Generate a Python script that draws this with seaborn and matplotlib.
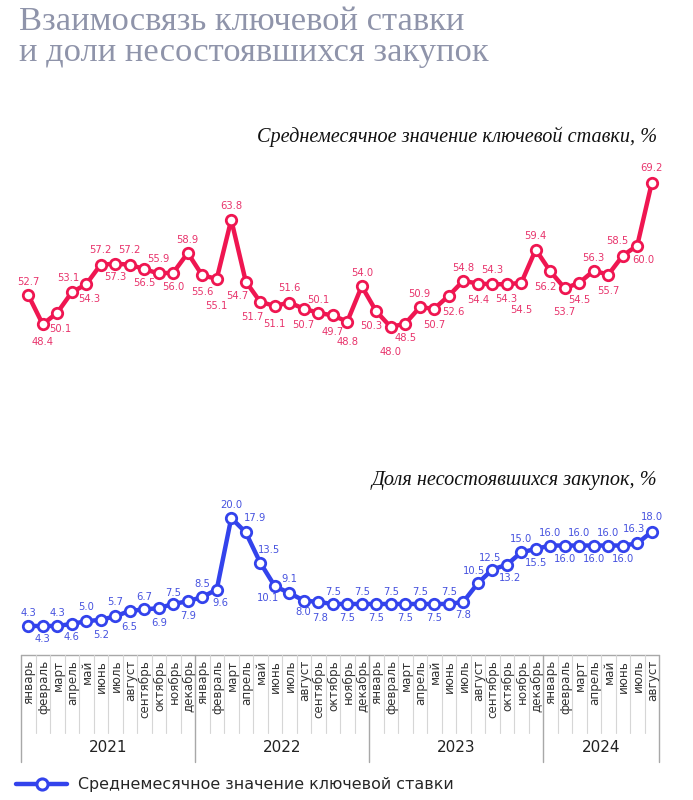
import matplotlib
matplotlib.use("Agg")
import matplotlib.pyplot as plt
import seaborn as sns
import pandas as pd
import numpy as np
from matplotlib.lines import Line2D

# ---------------- data ----------------
months = ["январь", "февраль", "март", "апрель", "май", "июнь", "июль",
          "август", "сентябрь", "октябрь", "ноябрь", "декабрь"]
years = ["2021", "2022", "2023", "2024"]
months_per_year = [12, 12, 12, 8]

key_rate = [52.7, 48.4, 50.1, 53.1, 54.3, 57.2, 57.3, 57.2, 56.5, 55.9, 56.0, 58.9,
            55.6, 55.1, 63.8, 54.7, 51.7, 51.1, 51.6, 50.7, 50.1, 49.7, 48.8, 54.0,
            50.3, 48.0, 48.5, 50.9, 50.7, 52.6, 54.8, 54.4, 54.3, 54.3, 54.5, 59.4,
            56.2, 53.7, 54.5, 56.3, 55.7, 58.5, 60.0, 69.2]

failed_share = [4.3, 4.3, 4.3, 4.6, 5.0, 5.2, 5.7, 6.5, 6.7, 6.9, 7.5, 7.9,
                8.5, 9.6, 20.0, 17.9, 13.5, 10.1, 9.1, 8.0, 7.8, 7.5, 7.5, 7.5,
                7.5, 7.5, 7.5, 7.5, 7.5, 7.5, 7.8, 10.5, 12.5, 13.2, 15.0, 15.5,
                16.0, 16.0, 16.0, 16.0, 16.0, 16.0, 16.3, 18.0]

title = "Взаимосвязь ключевой ставки\nи доли несостоявшихся закупок"
sub_rate = "Среднемесячное значение ключевой ставки, %"
sub_share = "Доля несостоявшихся закупок, %"
legend_label = "Среднемесячное значение ключевой ставки"

# label offsets in pixels (dx, dy) -- styling only
rate_off = [(0, 13), (0, -18), (3, -16), (-3, 14), (3, -15), (0, 15), (0, -13), (0, 15),
            (0, -14), (0, 14), (0, -14), (0, 13), (0, -17), (0, -27), (0, 14), (-8, -14),
            (-8, -15), (0, -18), (0, 15), (0, -16), (0, 13), (0, -17), (0, -20), (0, 13),
            (-5, -15), (0, -25), (0, -14), (0, 13), (0, -16), (5, -16), (0, 13), (0, -16),
            (0, 14), (0, -15), (0, -27), (0, 14), (-5, -16), (0, -24), (0, -17), (0, 13),
            (0, -16), (-5, 15), (6, -14), (0, 15)]
share_off = [(0, 13), (0, -13), (0, 13), (0, -13), (0, 14), (0, -15), (0, 14), (0, -16),
             (0, 12), (0, -15), (0, 11), (0, -15), (0, 13), (4, -13), (0, 13), (9, 14),
             (9, 13), (-7, -12), (0, 14), (0, -11), (2, -16), (0, 12),
             (0, -14), (0, 12), (0, -14), (0, 12), (0, -14), (0, 12), (0, -14), (0, 12),
             (0, -13), (-4, 12), (-2, 12), (3, -13), (0, 13), (0, -14), (0, 13), (0, -13),
             (0, 13), (0, -13), (0, 13), (0, -13), (-3, 14), (0, 15)]

RED = "#EF1651"
RED_TXT = "#E8346C"
BLUE = "#3343EC"
BLUE_TXT = "#4652DF"
TITLE_C = "#8F94AA"

sns.set_style("white")
plt.rcParams["font.family"] = ["DejaVu Sans"]

W, H = 693, 800
fig = plt.figure(figsize=(W / 100, H / 100), dpi=100)


def px_axes(x0, y0, x1, y1):
    return fig.add_axes([x0 / W, 1 - y1 / H, (x1 - x0) / W, (y1 - y0) / H])


n = len(key_rate)
idx = np.arange(n)
df = pd.DataFrame({"i": idx, "rate": key_rate, "share": failed_share})

X0, X1 = 21, 659

# ---------- key rate ----------
ax1 = px_axes(X0, 160, X1, 370)
sns.lineplot(data=df, x="i", y="rate", ax=ax1, color=RED, linewidth=3.2,
             marker="o", markersize=7.5, markerfacecolor="white",
             markeredgecolor=RED, markeredgewidth=2.0)
ax1.set_xlim(-0.5, n - 0.5)
ax1.set_ylim(41.67, 72.59)
for i, v in enumerate(key_rate):
    dx, dy = rate_off[i]
    ax1.annotate(f"{v:.1f}", (i, v), xytext=(dx, dy), textcoords="offset pixels",
                 ha="center", va="center", fontsize=7.2, color=RED_TXT)

# ---------- failed share ----------
ax2 = px_axes(X0, 490, X1, 650)
sns.lineplot(data=df, x="i", y="share", ax=ax2, color=BLUE, linewidth=3.2,
             marker="o", markersize=7.5, markerfacecolor="white",
             markeredgecolor=BLUE, markeredgewidth=2.0)
ax2.set_xlim(-0.5, n - 0.5)
ax2.set_ylim(0.81, 24.07)
for i, v in enumerate(failed_share):
    dx, dy = share_off[i]
    ax2.annotate(f"{v:.1f}", (i, v), xytext=(dx, dy), textcoords="offset pixels",
                 ha="center", va="center", fontsize=7.2, color=BLUE_TXT)

for ax in (ax1, ax2):
    ax.axis("off")

# ---------- month / year axis ----------
ax3 = px_axes(X0, 655, X1, 762)
ax3.set_xlim(-0.5, n - 0.5)
ax3.set_ylim(0, 1)
ax3.axis("off")
ax3.plot([-0.5, n - 0.5], [1, 1], color="#a8a8a8", lw=1.0, clip_on=False)
bounds = np.cumsum([0] + months_per_year)
month_names = []
for cnt in months_per_year:
    month_names += months[:cnt]
for k in range(n + 1):
    if k in bounds:
        ax3.plot([k - 0.5, k - 0.5], [0, 1], color="#a8a8a8", lw=1.0, clip_on=False)
    else:
        ax3.plot([k - 0.5, k - 0.5], [0.27, 1], color="#d6d6d6", lw=0.8, clip_on=False)
for i, m in enumerate(month_names):
    ax3.text(i + 0.05, 0.955, m, rotation=90, ha="center", va="top",
             fontsize=8.6, color="#333333")
for j, y in enumerate(years):
    c = (bounds[j] + bounds[j + 1] - 1) / 2
    ax3.text(c, 0.14, y, ha="center", va="center", fontsize=11, color="#222222")

# ---------- texts ----------
fig.text(19 / W, 1 - 7 / H, title, ha="left", va="top", fontsize=24.8,
         family=["Liberation Serif"], color=TITLE_C, linespacing=1.0)
fig.text(657 / W, 1 - 137 / H, sub_rate, ha="right", va="center", fontsize=14.6,
         family=["Liberation Serif"], style="italic", color="#111111")
fig.text(657 / W, 1 - 480 / H, sub_share, ha="right", va="center", fontsize=14.6,
         family=["Liberation Serif"], style="italic", color="#111111")

handle = Line2D([], [], color=BLUE, linewidth=3.2, marker="o", markersize=8,
                markerfacecolor="white", markeredgecolor=BLUE, markeredgewidth=2.2)
fig.legend(handles=[handle], labels=[legend_label], loc="center left",
           bbox_to_anchor=(10 / W, 1 - 785 / H), frameon=False, fontsize=11.4,
           handlelength=3.2, handletextpad=0.7, borderaxespad=0)

fig.savefig("out.png", dpi=100)
